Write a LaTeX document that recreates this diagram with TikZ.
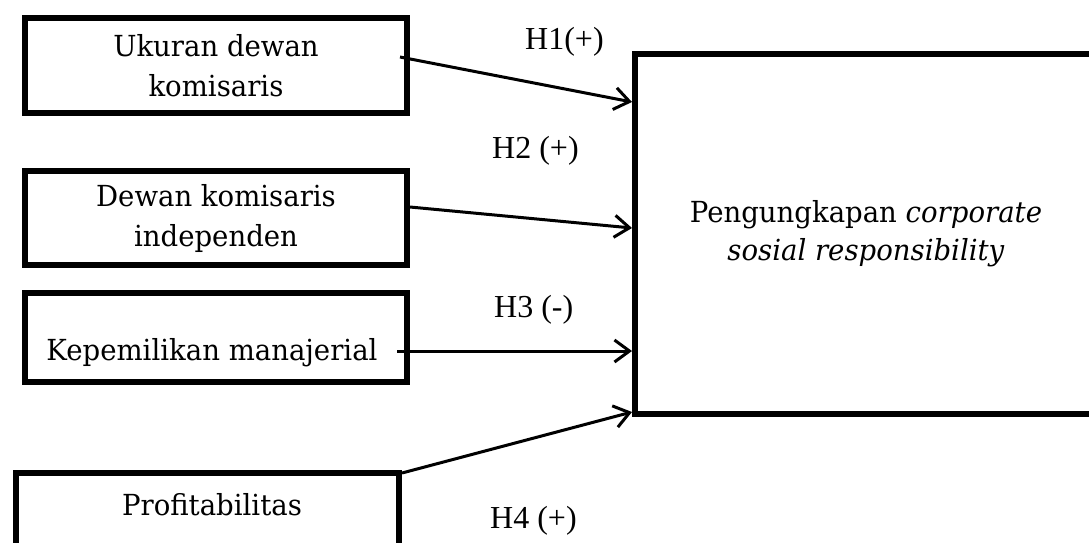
\documentclass[tikz,border=0pt]{standalone}
\usepackage{fontspec}
\setmainfont{Liberation Serif}
\newfontfamily\boxfont[FakeStretch=0.95]{DejaVu Serif}
\usetikzlibrary{arrows.meta}
\begin{document}
\begin{tikzpicture}[x=1pt,y=-1pt,
  box/.style={draw, line width=6pt, inner sep=0pt, align=center,
    font=\boxfont\fontsize{29}{40}\selectfont},
  txt/.style={inner sep=0pt, align=center, font=\boxfont\fontsize{29}{40}\selectfont},
  hyp/.style={inner sep=0pt, anchor=base west, font=\fontsize{32}{36}\selectfont},
  link/.style={line width=3pt, -{Straight Barb[length=15pt,width=22pt,line width=3pt]}}]
\useasboundingbox (0,0) rectangle (1089,542);
\begin{scope}
\clip (0,0) rectangle (1089,542);
\node[box, minimum width=382pt, minimum height=95pt] (b1) at (216,65.5) {Ukuran dewan\\komisaris};
\node[box, minimum width=382pt, minimum height=94pt] (b2) at (216,218) {Dewan komisaris\\independen};
\node[box, minimum width=382pt, minimum height=89pt] (b3) at (216,337.5) {};
\node[txt] (t3) at (212,353) {Kepemilikan manajerial};
\node[box, minimum width=383pt, minimum height=87pt] (b4) at (207.5,516.5) {};
\node[txt] (t4) at (212,505) {Profitabilitas};
\node[box, minimum width=462pt, minimum height=360pt,
  font=\boxfont\fontsize{29}{38}\selectfont] (dv) at (866,234)
  {Pengungkapan \textit{corporate}\\\textit{sosial responsibility}};
\end{scope}
\coordinate (s1) at (400,57);
\coordinate (e1) at (632,102);
\coordinate (s2) at (410,207);
\coordinate (e2) at (632,228);
\coordinate (s3) at (397,351);
\coordinate (e3) at (632,351);
\coordinate (s4) at (402,473);
\coordinate (e4) at (632,412);
\draw[link] (s1) -- (e1);
\draw[link] (s2) -- (e2);
\draw[link] (s3) -- (e3);
\draw[link] (s4) -- (e4);
\node[hyp] (h1) at (525,49) {H1(+)};
\node[hyp] (h2) at (492,158) {H2 (+)};
\node[hyp] (h3) at (494,317) {H3 (-)};
\node[hyp] (h4) at (490,528) {H4 (+)};
\end{tikzpicture}
\end{document}
